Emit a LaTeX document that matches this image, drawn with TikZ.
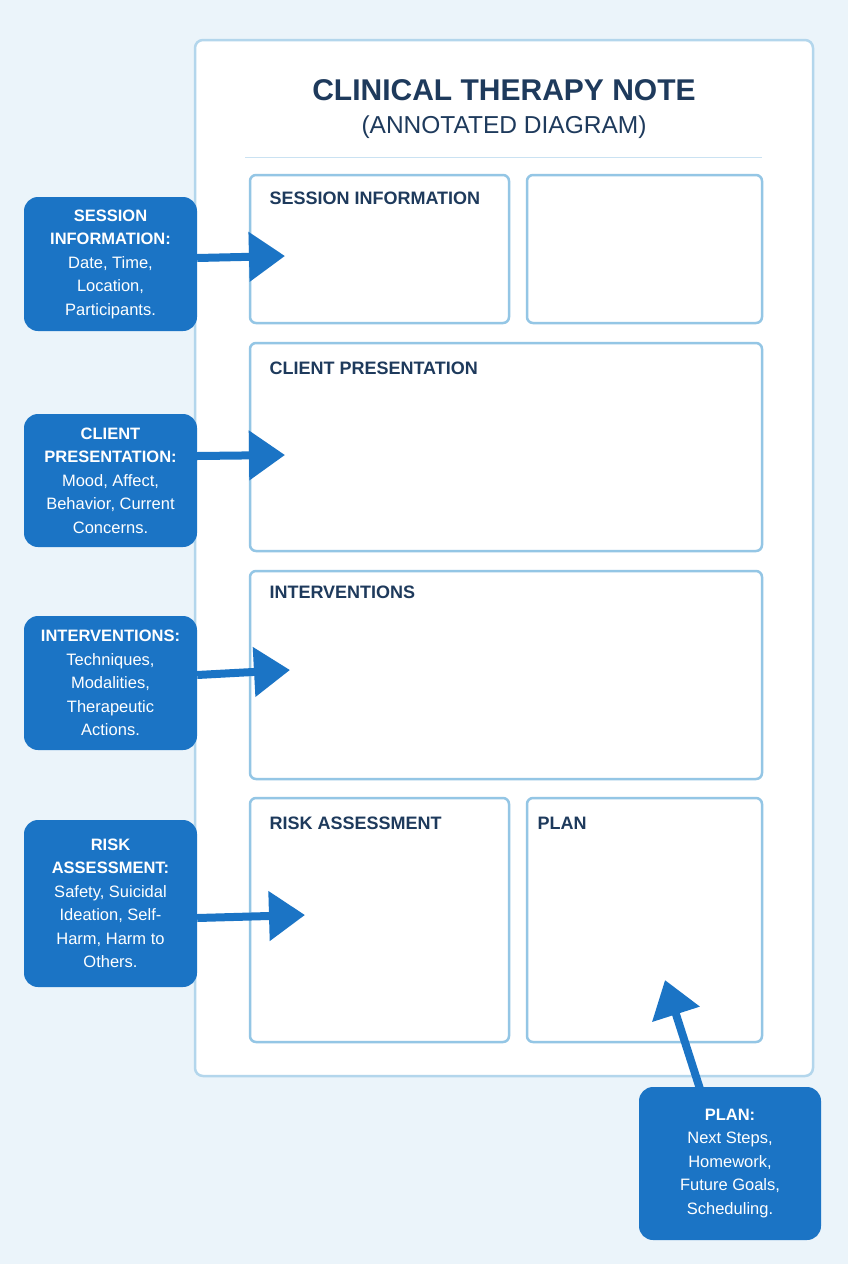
\documentclass[tikz,border=0pt]{standalone}
\usepackage{fontspec}
\setmainfont{Liberation Sans}
\usetikzlibrary{arrows.meta}
\definecolor{bgc}{HTML}{EBF4FA}
\definecolor{cardb}{HTML}{B3D6EC}
\definecolor{boxb}{HTML}{94C6E5}
\definecolor{navy}{HTML}{1E3A5C}
\definecolor{callc}{HTML}{1B74C5}
\tikzset{
  sect/.style={draw=boxb,line width=2.5pt,rounded corners=6pt,fill=white},
  sectlabel/.style={anchor=west,text=navy,font=\fontsize{18}{20}\selectfont\bfseries},
  callout/.style={fill=callc,rounded corners=14pt,text=white,align=center,font=\fontsize{16.5}{23.5}\selectfont},
  bigarrow/.style={draw=callc,line width=8pt,-{Triangle[length=36pt,width=48pt]}}
}
\begin{document}
\begin{tikzpicture}[x=1pt,y=-1pt]
\fill[bgc] (0,0) rectangle (848,1264);
\useasboundingbox (0,0) rectangle (848,1264);
\draw[draw=cardb,line width=2.5pt,fill=white,rounded corners=8pt] (195,40) rectangle (813,1076);
\node[text=navy,font=\fontsize{30}{32}\selectfont\bfseries] (title) at (504,90) {CLINICAL THERAPY NOTE};
\node[text=navy,font=\fontsize{24.5}{28}\selectfont] (sub) at (504,127) {(ANNOTATED DIAGRAM)};
\draw[cardb!70,line width=1pt] (245,157) -- (762,157);
\draw[sect] (250,175) rectangle (509,323);
\draw[sect] (527,175) rectangle (762,323);
\draw[sect] (250,343) rectangle (762,551);
\draw[sect] (250,571) rectangle (762,779);
\draw[sect] (250,798) rectangle (509,1042);
\draw[sect] (527,798) rectangle (762,1042);
\node[sectlabel] (l1) at (266,198) {SESSION INFORMATION};
\node[sectlabel] (l2) at (266,368) {CLIENT PRESENTATION};
\node[sectlabel] (l3) at (266,592) {INTERVENTIONS};
\node[sectlabel] (l4) at (266,823) {RISK ASSESSMENT};
\node[sectlabel] (l5) at (534,823) {PLAN};
\node[callout,minimum width=173pt,minimum height=134pt] (c1) at (110.5,264) {\textbf{SESSION}\\\textbf{INFORMATION:}\\Date, Time,\\Location,\\Participants.};
\node[callout,minimum width=173pt,minimum height=133pt] (c2) at (110.5,480.5) {\textbf{CLIENT}\\\textbf{PRESENTATION:}\\Mood, Affect,\\Behavior, Current\\Concerns.};
\node[callout,minimum width=173pt,minimum height=134pt] (c3) at (110.5,683) {\textbf{INTERVENTIONS:}\\Techniques,\\Modalities,\\Therapeutic\\Actions.};
\node[callout,minimum width=173pt,minimum height=167pt] (c4) at (110.5,903.5) {\textbf{RISK}\\\textbf{ASSESSMENT:}\\Safety, Suicidal\\Ideation, Self-\\Harm, Harm to\\Others.};
\node[callout,minimum width=182pt,minimum height=153pt] (c5) at (730,1163.5) {\textbf{PLAN:}\\Next Steps,\\Homework,\\Future Goals,\\Scheduling.};
\coordinate (t1) at (285,256);
\coordinate (t2) at (285,455);
\coordinate (t3) at (290,670);
\coordinate (t4) at (305,915);
\coordinate (t5) at (665,980);
\draw[bigarrow] (c1.east|-0,258) -- (t1);
\draw[bigarrow] (c2.east|-0,456) -- (t2);
\draw[bigarrow] (c3.east|-0,675) -- (t3);
\draw[bigarrow] (c4.east|-0,918) -- (t4);
\draw[bigarrow] (700,1089) -- (t5);
\end{tikzpicture}
\end{document}
